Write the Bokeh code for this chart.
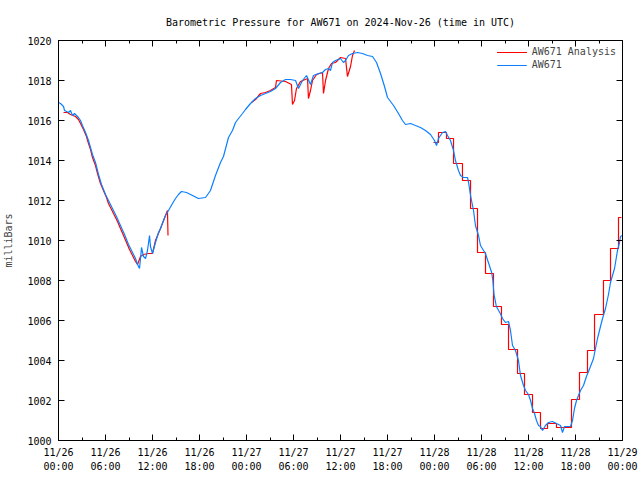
import pandas as pd
from bokeh.plotting import figure
from bokeh.models import (FixedTicker, DatetimeTickFormatter, LinearAxis,
                          Range1d, Legend, LegendItem, CustomJSTickFormatter)
from bokeh.embed import file_html
from bokeh.resources import INLINE

# ---------------- data (hours after 2024-11-26 00:00 UTC, millibars) ----------------
blue_h = [0.0, 0.26, 0.64, 0.77, 1.28, 1.53, 1.79, 2.04, 2.55, 2.81, 3.06, 3.45, 3.83, 4.34,
          4.72, 5.11, 5.49, 6.0, 6.38, 6.89, 7.40, 7.91, 8.43, 8.94, 9.45, 9.83, 10.09, 10.34,
          10.47, 10.6, 10.85, 11.11, 11.36, 11.62, 11.74, 12.0, 12.38, 12.77, 13.02, 13.40,
          13.66, 14.04, 14.55, 14.94, 15.32, 15.7, 16.34, 17.11, 17.87, 18.77, 19.40, 20.04,
          20.68, 21.06, 21.70, 22.21, 22.60, 22.98, 23.49, 23.87, 24.51, 25.15, 25.79, 26.43,
          27.06, 27.70, 28.34, 28.98, 29.62, 30.26, 30.64, 31.15, 31.66, 32.17, 32.55, 33.19,
          33.70, 34.09, 34.47, 34.72, 34.98, 35.36, 36.0, 36.38, 36.64, 37.02, 37.53, 38.17,
          38.81, 39.45, 40.09, 40.60, 41.11, 41.62, 42.0, 42.77, 43.40, 43.91, 44.30, 44.94,
          45.57, 46.21, 46.85, 47.49, 48.0, 48.26, 48.51, 49.02, 49.40, 49.66, 50.04, 50.43,
          50.68, 51.06, 51.32, 51.70, 52.21, 52.35, 52.60, 52.98, 53.23, 53.62, 53.87, 54.5,
          55.3, 55.45, 55.6, 55.9, 56.4, 56.68, 57.06, 57.45, 57.70, 57.96, 58.34, 58.72,
          58.98, 59.36, 59.62, 60.0, 60.26, 60.51, 60.77, 61.02, 61.28, 61.53, 61.79, 62.17,
          62.55, 63.06, 63.57, 64.09, 64.34, 64.6, 65.36, 65.62, 65.87, 66.13, 66.38, 66.64,
          67.02, 67.40, 67.91, 68.30, 68.55, 68.81, 69.19, 69.45, 69.83, 70.21, 70.47, 70.72,
          70.98, 71.11, 71.36, 71.62, 71.74, 72.0]
blue_p = [1016.9, 1016.85, 1016.7, 1016.5, 1016.4, 1016.5, 1016.25, 1016.35, 1016.15, 1016.0,
          1015.75, 1015.4, 1015.0, 1014.3, 1013.9, 1013.3, 1012.8, 1012.3, 1012.0, 1011.6,
          1011.2, 1010.75, 1010.3, 1009.8, 1009.4, 1009.1, 1008.8, 1008.6, 1009.1, 1009.65,
          1009.2, 1009.1, 1009.5, 1010.25, 1009.7, 1009.35, 1009.9, 1010.4, 1010.6, 1011.0,
          1011.25, 1011.5, 1011.85, 1012.1, 1012.3, 1012.45, 1012.4, 1012.25, 1012.1, 1012.15,
          1012.5, 1013.25, 1013.9, 1014.2, 1015.15, 1015.5, 1015.9, 1016.1, 1016.35, 1016.55,
          1016.85, 1017.1, 1017.25, 1017.35, 1017.45, 1017.6, 1017.9, 1018.05, 1018.05, 1018.0,
          1017.6, 1018.0, 1018.25, 1017.8, 1018.25, 1018.35, 1018.4, 1018.55, 1018.6, 1018.5,
          1018.9, 1019.0, 1019.1, 1018.9, 1019.0, 1019.25, 1019.35, 1019.4, 1019.35, 1019.25,
          1019.2, 1018.9, 1018.35, 1017.7, 1017.15, 1016.75, 1016.35, 1016.0, 1015.8, 1015.85,
          1015.75, 1015.65, 1015.5, 1015.3, 1015.0, 1014.75, 1015.1, 1015.4, 1015.45, 1015.25,
          1015.0, 1014.5, 1014.0, 1013.5, 1013.25, 1013.15, 1013.15, 1012.9, 1012.25, 1011.5,
          1010.75, 1010.25, 1009.75, 1009.35, 1008.4, 1008.0, 1007.3, 1006.7, 1006.35, 1006.1,
          1005.9, 1005.95, 1005.5, 1004.75, 1004.5, 1004.0, 1003.25, 1002.75, 1002.5, 1002.3,
          1002.0, 1001.6, 1001.35, 1001.0, 1000.75, 1000.7, 1000.5, 1000.75, 1000.9, 1000.95,
          1000.85, 1000.75, 1000.4, 1000.7, 1000.7, 1001.0, 1001.6, 1002.0, 1002.25, 1002.5,
          1002.75, 1003.2, 1003.7, 1004.1, 1004.6, 1005.1, 1005.7, 1006.1, 1006.6, 1007.3,
          1007.9, 1008.25, 1008.6, 1008.9, 1009.5, 1009.9, 1010.2, 1010.25]

red1_h = [0.64, 1.15, 1.53, 2.17, 2.55, 2.81, 3.19, 3.57, 3.83, 4.09, 4.34, 4.72, 4.98, 5.36,
          5.74, 6.13, 6.38, 6.77, 7.02, 7.53, 7.91, 8.30, 8.68, 9.06, 9.45, 9.83, 10.09, 10.47,
          10.85, 11.49, 12.0, 12.38, 13.02, 13.66, 13.91, 13.98]
red1_p = [1016.4, 1016.4, 1016.3, 1016.2, 1016.05, 1015.85, 1015.55, 1015.2, 1014.85, 1014.55,
          1014.15, 1013.75, 1013.35, 1012.85, 1012.5, 1012.15, 1011.85, 1011.55, 1011.35,
          1010.95, 1010.6, 1010.25, 1009.9, 1009.55, 1009.25, 1008.95, 1008.8, 1009.2, 1009.3,
          1009.35, 1009.35, 1010.0, 1010.6, 1011.25, 1011.5, 1010.25]

red2_h = [24.64, 25.15, 25.79, 26.43, 27.06, 27.70, 27.83, 28.98, 29.74, 29.87, 30.13, 30.38,
          30.89, 31.79, 31.91, 32.17, 32.43, 32.94, 33.70, 33.83, 34.09, 34.47, 34.85, 35.36,
          36.0, 36.64, 36.89, 37.28, 37.53, 37.79]
red2_p = [1016.9, 1017.05, 1017.35, 1017.4, 1017.5, 1017.65, 1018.0, 1017.95, 1017.8, 1016.8,
          1017.0, 1017.6, 1017.95, 1018.1, 1017.1, 1017.5, 1018.0, 1018.3, 1018.4, 1017.35,
          1018.0, 1018.6, 1018.85, 1018.9, 1019.15, 1019.1, 1018.2, 1018.7, 1019.25, 1019.5]

red3_h = [47.87, 48.51, 49.53, 50.43, 51.57, 52.60, 53.49, 54.51, 55.53, 56.55, 57.45, 58.6,
          59.49, 60.51, 61.53, 62.43, 63.57, 64.5, 65.49, 66.51, 67.53, 68.43, 69.57, 70.47,
          71.49, 71.87]
red3_p = [1014.9, 1015.4, 1015.1, 1013.85, 1013.0, 1011.6, 1009.4, 1008.35, 1006.7, 1005.8,
          1004.55, 1003.35, 1002.3, 1001.4, 1000.6, 1000.85, 1000.65, 1000.65, 1002.05, 1003.4,
          1004.5, 1006.3, 1008.0, 1009.6, 1011.15, 1011.15]

major_tick_hours = list(range(0, 73, 6))
minor_tick_hours = list(range(0, 73, 3))
y_ticks = list(range(1000, 1021, 2))

title_text = "Barometric Pressure for AW671 on 2024-Nov-26 (time in UTC)"
y_label = "milliBars"
legend_labels = ["AW671 Analysis", "AW671"]

# ---------------- build ----------------
base = pd.Timestamp("2024-11-26 00:00:00")


def to_time(hours):
    return base + pd.to_timedelta(pd.Series(hours, dtype=float), unit="h")


def to_ms(hours):
    return [(base + pd.Timedelta(hours=h)).value / 1e6 for h in hours]


FONT = "DejaVu Sans Mono"
FS = "10px"
RED = "#ff0000"
BLUE = "#0a80ff"

p = figure(width=640, height=480, x_axis_type="datetime",
           x_range=Range1d(base, base + pd.Timedelta(hours=72)),
           y_range=Range1d(1000, 1020),
           output_backend="svg", toolbar_location=None,
           min_border_left=58, min_border_right=18, min_border_top=40, min_border_bottom=40)

p.background_fill_color = "white"
p.border_fill_color = "white"
p.outline_line_color = "black"
p.xgrid.visible = False
p.ygrid.visible = False

p.title.text = title_text
p.title.align = "center"
p.title.text_font = FONT
p.title.text_font_size = FS
p.title.text_font_style = "normal"
p.title.text_color = "black"
p.title.offset = 0
p.title.standoff = 25

xticker = FixedTicker(ticks=to_ms(major_tick_hours), minor_ticks=to_ms(minor_tick_hours))
fmt = "%m/%d\n%H:%M"
xfmt = DatetimeTickFormatter(microseconds=fmt, milliseconds=fmt, seconds=fmt, minsec=fmt,
                             minutes=fmt, hourmin=fmt, hours=fmt, days=fmt, months=fmt, years=fmt)
yticker = FixedTicker(ticks=y_ticks, minor_ticks=[])
blank = CustomJSTickFormatter(code="return '';")


def style_axis(ax):
    ax.axis_line_color = "black"
    ax.major_tick_line_color = "black"
    ax.minor_tick_line_color = "black"
    ax.major_tick_in = 6
    ax.major_tick_out = 0
    ax.minor_tick_in = 3
    ax.minor_tick_out = 0
    ax.major_label_text_font = FONT
    ax.major_label_text_color = "black"
    ax.major_label_text_font_size = FS


xa = p.xaxis[0]
xa.ticker = xticker
xa.formatter = xfmt
style_axis(xa)
xa.major_label_standoff = 6
xa.major_label_text_line_height = 1.3

ya = p.yaxis[0]
ya.ticker = yticker
style_axis(ya)
ya.major_label_standoff = 7
ya.axis_label = y_label
ya.axis_label_text_font = FONT
ya.axis_label_text_font_size = FS
ya.axis_label_text_font_style = "normal"
ya.axis_label_standoff = 10

top = LinearAxis(ticker=xticker, formatter=blank)
style_axis(top)
top.major_label_standoff = 0
p.add_layout(top, "above")

right = LinearAxis(ticker=yticker, formatter=blank)
style_axis(right)
right.major_label_standoff = 0
p.add_layout(right, "right")

r1 = p.line(to_time(red1_h), red1_p, line_color=RED, line_width=1.2)
r2 = p.line(to_time(red2_h), red2_p, line_color=RED, line_width=1.2)
r3 = p.step(to_time(red3_h), red3_p, mode="after", line_color=RED, line_width=1.2)
b = p.line(to_time(blue_h), blue_p, line_color=BLUE, line_width=1.2)

legend = Legend(items=[LegendItem(label=legend_labels[0], renderers=[r1, r2, r3]),
                       LegendItem(label=legend_labels[1], renderers=[b])],
                location="top_right")
legend.border_line_color = None
legend.background_fill_alpha = 0
legend.label_text_font = FONT
legend.label_text_font_size = FS
legend.glyph_width = 30
legend.glyph_height = 10
legend.label_height = 10
legend.spacing = 2
legend.padding = 4
legend.margin = 6
p.add_layout(legend)

open("out.html", "w").write(file_html(p, INLINE))
